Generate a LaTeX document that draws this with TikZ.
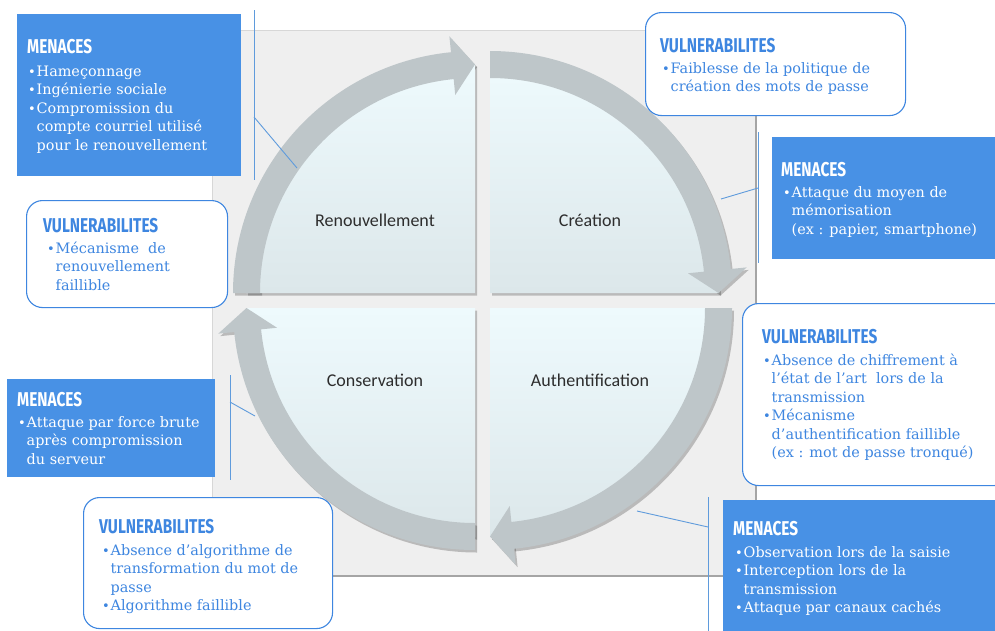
\documentclass[tikz,border=0pt]{standalone}
\usepackage{fontspec}
\setmainfont{DejaVu Serif}
\newfontfamily\titlefont[FakeStretch=0.77]{Fira Sans}
\newfontfamily\quadfont{Carlito}
\usetikzlibrary{calc}
\definecolor{boxblue}{RGB}{72,145,229}
\definecolor{textblue}{RGB}{62,134,224}
\definecolor{linkblue}{RGB}{95,155,220}
\definecolor{panelgray}{RGB}{239,239,239}
\definecolor{paneledge}{RGB}{165,165,165}
\definecolor{paneledgelight}{RGB}{215,215,215}
\definecolor{ringgray}{RGB}{190,198,201}
\definecolor{quadtop}{RGB}{238,250,253}
\definecolor{quadbot}{RGB}{220,231,234}
\definecolor{labelgray}{RGB}{45,45,45}
\newcommand{\bul}{\makebox[8.5pt][l]{\scalebox{0.9}{\textbullet}}}
\newcommand{\ind}{\hspace*{8.5pt}}
% cx, cy, start angle, disc style, ring style
\newcommand{\quadshapes}[5]{%
  \path[#4] (#1,#2) -- ++(#3:229) arc[start angle=#3, end angle=#3+90, radius=229] -- cycle;
  \path[#5] ($(#1,#2)+({#3}:242)$) arc[start angle=#3, end angle=#3+84.6, radius=242]
     -- ($(#1,#2)+({#3+84.6}:215)$) arc[start angle=#3+84.6, end angle=#3, radius=215] -- cycle;
  \path[#5] ($(#1,#2)+({#3+84.3}:199)$) -- ($(#1,#2)+({#3+84.3}:258)$) -- ($(#1,#2)+({#3+90}:228.5)$) -- cycle;
}
\tikzset{
  menbox/.style={rectangle, fill=boxblue, draw=none, inner sep=0pt, anchor=north west},
  vulbox/.style={rectangle, rounded corners=16pt, fill=white, draw=textblue, line width=1.1pt, inner sep=0pt, anchor=north west},
  titletext/.style={anchor=base west, inner sep=0pt, font=\titlefont\bfseries\fontsize{20}{22}\selectfont},
  bodytext/.style={anchor=north west, inner sep=0pt, align=left, font=\fontsize{14.4}{18.5}\selectfont},
  link/.style={draw=linkblue, line width=0.9pt},
  quadlabel/.style={font=\quadfont\fontsize{18}{20}\selectfont, text=labelgray, inner sep=0pt},
  discfill/.style={top color=quadtop, bottom color=quadbot},
  ringfill/.style={fill=ringgray},
  shadowfill/.style={fill=black, opacity=0.22},
}
\begin{document}
\begin{tikzpicture}[x=1pt, y=-1pt]
\useasboundingbox (0,0) rectangle (995,630);
\clip (0,0) rectangle (995,630);
\fill[white] (0,0) rectangle (995,630);

% panel
\fill[panelgray] (212,30) rectangle (756,576);
\draw[paneledgelight, line width=1pt] (212,576) -- (212,30) -- (756,30);
\draw[paneledge, line width=1.2pt] (756,30) -- (756,576) -- (212,576);

% quadrant shadows
\begin{scope}[shift={(2,2.5)}]
  \quadshapes{475}{293}{180}{shadowfill}{shadowfill}
  \quadshapes{490}{293}{270}{shadowfill}{shadowfill}
  \quadshapes{490}{308}{0}{shadowfill}{shadowfill}
  \quadshapes{475}{308}{90}{shadowfill}{shadowfill}
\end{scope}
% quadrants
\quadshapes{475}{293}{180}{discfill}{ringfill}
\quadshapes{490}{293}{270}{discfill}{ringfill}
\quadshapes{490}{308}{0}{discfill}{ringfill}
\quadshapes{475}{308}{90}{discfill}{ringfill}

\node[quadlabel] (renouv) at (375,220) {Renouvellement};
\node[quadlabel] (creation) at (590,220) {Création};
\node[quadlabel] (conserv) at (375,380) {Conservation};
\node[quadlabel] (authent) at (590,380) {Authentification};

% connectors
\coordinate (c1a) at (254,10);  \coordinate (c1b) at (254,180);
\coordinate (c1m) at (254,117); \coordinate (c1r) at (297,168);
\coordinate (c2a) at (758,132); \coordinate (c2b) at (758,263);
\coordinate (c2m) at (758,188); \coordinate (c2r) at (721,199);
\coordinate (c3a) at (230,375); \coordinate (c3b) at (230,480);
\coordinate (c3m) at (230,402); \coordinate (c3r) at (255,416);
\coordinate (c4a) at (708,497); \coordinate (c4b) at (708,640);
\coordinate (c4m) at (708,527); \coordinate (c4r) at (637,511);
\draw[link] (c1a) -- (c1b); \draw[link] (c1m) -- (c1r);
\draw[link] (c2a) -- (c2b); \draw[link] (c2m) -- (c2r);
\draw[link] (c3a) -- (c3b); \draw[link] (c3m) -- (c3r);
\draw[link] (c4a) -- (c4b); \draw[link] (c4m) -- (c4r);

% boxes
\node[menbox, minimum width=224pt, minimum height=162pt] (m1) at (17,14) {};
\node[vulbox, minimum width=201pt, minimum height=107pt] (v1) at (26,200) {};
\node[vulbox, minimum width=260pt, minimum height=103pt] (v2) at (645,12) {};
\node[menbox, minimum width=228pt, minimum height=122pt] (m2) at (772,137) {};
\node[vulbox, minimum width=268pt, minimum height=182pt] (v3) at (742,303) {};
\node[menbox, minimum width=277pt, minimum height=140pt] (m3) at (723,500) {};
\node[menbox, minimum width=208pt, minimum height=98pt] (m4) at (7,379) {};
\node[vulbox, minimum width=249pt, minimum height=131pt] (v4) at (83,497) {};

% texts
\node[titletext, text=white] (m1t) at (27,53) {MENACES};
\node[bodytext, text=white] (m1b) at (28,63) {\strut\bul Hameçonnage\\ \bul Ingénierie sociale\\ \bul Compromission du\\ \ind compte courriel utilisé\\ \ind pour le renouvellement};

\node[titletext, text=textblue] (v1t) at (43,232) {VULNERABILITES};
\node[bodytext, text=textblue] (v1b) at (47,240) {\strut\bul Mécanisme\ \ de\\ \ind renouvellement\\ \ind faillible};

\node[titletext, text=textblue] (v2t) at (660,52) {VULNERABILITES};
\node[bodytext, text=textblue] (v2b) at (662,60) {\strut\bul Faiblesse de la politique de\\ \ind création des mots de passe};

\node[titletext, text=white] (m2t) at (781,176) {MENACES};
\node[bodytext, text=white] (m2b) at (783,184) {\strut\bul Attaque du moyen de\\ \ind mémorisation\\ \ind (ex : papier, smartphone)};

\node[titletext, text=textblue] (v3t) at (762,343) {VULNERABILITES};
\node[bodytext, text=textblue] (v3b) at (763,352) {\strut\bul Absence de chiffrement à\\ \ind l’état de l’art\ \ lors de la\\ \ind transmission\\ \bul Mécanisme\\ \ind d’authentification faillible\\ \ind (ex : mot de passe tronqué)};

\node[titletext, text=white] (m3t) at (733,535) {MENACES};
\node[bodytext, text=white] (m3b) at (735,544) {\strut\bul Observation lors de la saisie\\ \bul Interception lors de la\\ \ind transmission\\ \bul Attaque par canaux cachés};

\node[titletext, text=white] (m4t) at (17,406) {MENACES};
\node[bodytext, text=white] (m4b) at (18,414) {\strut\bul Attaque par force brute\\ \ind après compromission\\ \ind du serveur};

\node[titletext, text=textblue] (v4t) at (99,533) {VULNERABILITES};
\node[bodytext, text=textblue] (v4b) at (102,542) {\strut\bul Absence d’algorithme de\\ \ind transformation du mot de\\ \ind passe\\ \bul Algorithme faillible};
\end{tikzpicture}
\end{document}
